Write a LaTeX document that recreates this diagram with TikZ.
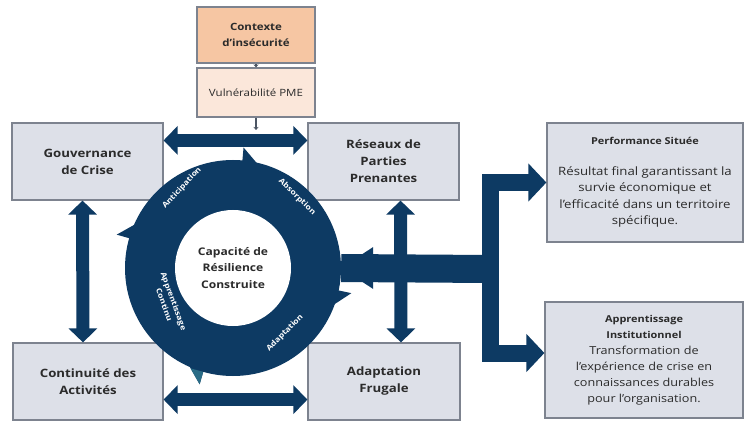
\documentclass[tikz,border=0pt]{standalone}
\usepackage{fontspec}
\setmainfont[FakeStretch=1.15]{Open Sans}
\usepackage{tikz}
\usetikzlibrary{arrows.meta}
\usepackage{xcolor}
\definecolor{marine}{HTML}{0D3A63}
\definecolor{sarcelle}{HTML}{2A6C86}
\definecolor{grisboite}{HTML}{DDE0E8}
\definecolor{bordure}{HTML}{7D838F}
\definecolor{peche}{HTML}{F6C6A3}
\definecolor{pechepale}{HTML}{FBE7DA}
\definecolor{texte}{HTML}{2B2B2B}
\definecolor{trait}{HTML}{4B5563}
\tikzset{boite/.style={draw=bordure,line width=1.2pt,fill=grisboite,text=texte,align=center,inner sep=2pt}}
\tikzset{titre/.style={font=\fontsize{11.5}{17}\selectfont\bfseries}}
\tikzset{flechedouble/.style={draw=marine,line width=13pt,{Triangle[width=28pt,length=14pt]}-{Triangle[width=28pt,length=14pt]}}}
\tikzset{branche/.style={draw=marine,line width=17pt,line join=miter,-{Triangle[width=37pt,length=18pt]}}}
\tikzset{petitefleche/.style={draw=trait,line width=1.6pt,-{Stealth[length=3pt,width=5pt]}}}
\tikzset{etiquette/.style={text=white,align=center,inner sep=0pt,font=\fontsize{7.5}{10}\selectfont\bfseries}}

\begin{document}
\begin{tikzpicture}[x=1pt,y=-1pt]
		\useasboundingbox (0,0) rectangle (744,422);
		\fill[white] (0,0) rectangle (744,422);
		\begin{scope}
			%contexte
			\node[boite,fill=peche,minimum width=118pt,minimum height=56pt,font=\fontsize{10}{16}\selectfont\bfseries] (contexte) at (256,35) {Contexte\\d'insécurité};
			\node[boite,fill=pechepale,minimum width=118pt,minimum height=49pt,font=\fontsize{10}{12}\selectfont] (vulner) at (256,92.5) {Vulnérabilité PME};
			\coordinate (vulnbas) at (256,130);
			\draw[petitefleche] (contexte) -- (vulner);
			\draw[petitefleche] (vulner) -- (vulnbas);
		\end{scope}
		\begin{scope}
			%four boxes
			\node[boite,titre,minimum width=151pt,minimum height=77pt] (gouvernance) at (87.5,161.5) {Gouvernance\\de Crise};
			\node[boite,titre,minimum width=151pt,minimum height=77pt] (reseaux) at (383.5,161.5) {Réseaux de\\Parties\\Prenantes};
			\node[boite,titre,minimum width=150pt,minimum height=77pt] (continuite) at (88,381.5) {Continuité des\\Activités};
			\node[boite,titre,minimum width=152pt,minimum height=77pt] (adaptation) at (384,381.5) {Adaptation\\Frugale};
			%outcomes
			\node[boite,minimum width=196pt,minimum height=119pt,font=\fontsize{11.5}{16.5}\selectfont] (performance) at (645,182.5) {{\fontsize{9.5}{16.5}\selectfont\bfseries Performance Située}\\[14pt]Résultat final garantissant la\\survie économique et\\l'efficacité dans un territoire\\spécifique.};
			\node[boite,minimum width=198pt,minimum height=116pt,font=\fontsize{11}{16}\selectfont] (apprentissage) at (644,360) {{\fontsize{9.5}{16}\selectfont\bfseries Apprentissage}\\{\fontsize{9.5}{16}\selectfont\bfseries Institutionnel}\\Transformation de\\l'expérience de crise en\\connaissances durables\\pour l'organisation.};
		\end{scope}
		\begin{scope}
			%double arrows between boxes
			\draw[flechedouble] ([yshift=-18pt]gouvernance.north east) -- ([yshift=-18pt]reseaux.north west);
			\draw[flechedouble] ([yshift=21pt]continuite.south east) -- ([yshift=21pt]adaptation.south west);
			\draw[flechedouble] ([xshift=-5pt]gouvernance.south) -- ([xshift=-5pt]continuite.north);
			\draw[flechedouble] ([xshift=17pt]reseaux.south) -- ([xshift=17pt]adaptation.north);
		\end{scope}
		\begin{scope}
			%ring
			\node[circle,fill=marine,minimum size=216pt,inner sep=0pt] (anneau) at (233,268) {};
			%output bar into the ring
			\coordinate (jonction) at (490,269);
			\draw[marine,line width=28pt] (jonction) -- (anneau.east);
			\fill[marine] ([shift={(32,-21)}]anneau.east) -- ([shift={(32,21)}]anneau.east) -- (anneau.east) -- cycle;
			\begin{scope}[shift={(anneau.center)}]
				%arrow heads of the cycle
				\fill[marine] (-85:60) -- (-85:121) -- (-71:100) -- cycle;
				\fill[marine] (12:60) -- (12:121) -- (26:100) -- cycle;
				\fill[marine] (106:60) -- (106:121) -- (120:100) -- cycle;
				\fill[sarcelle] (106:108) -- (106:121) -- (113:109) -- cycle;
				\fill[marine] (196:60) -- (196:121) -- (210:100) -- cycle;
			\end{scope}
			\node[circle,fill=white,minimum size=116pt,inner sep=0pt,align=center,text=texte,font=\fontsize{10.5}{16.5}\selectfont\bfseries] (noyau) at (anneau.center) {Capacité de\\Résilience\\Construite};
			%ring labels
			\node[etiquette,rotate=47] (anticipation) at (182,188) {Anticipation};
			\node[etiquette,rotate=-44] (absorption) at (297,197) {Absorption};
			\node[etiquette,rotate=45] (adapt) at (285,333) {Adaptation};
			\node[etiquette,rotate=-70] (continu) at (169,303) {Apprentissage\\Continu};
		\end{scope}
		\begin{scope}
			%output branches
			\draw[branche] (jonction) |- (performance.west);
			\draw[branche] (jonction) |- ([yshift=7pt]apprentissage.west);
		\end{scope}
		%
	\end{tikzpicture}
\end{document}
